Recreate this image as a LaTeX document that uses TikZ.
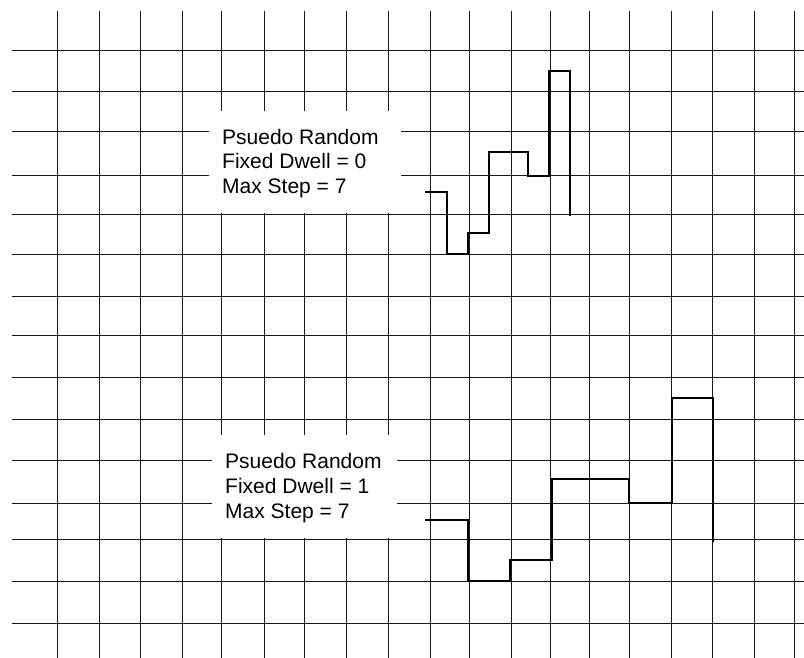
\documentclass[tikz,border=0pt]{standalone}
\usepackage{fontspec}
\setmainfont{Liberation Sans}
\tikzset{
  gridline/.style={line width=1pt, black!90},
  trace/.style={line width=2.6pt, black, line join=miter, line cap=butt},
  blank/.style={fill=white, draw=none},
  label/.style={anchor=base west, align=left, inner sep=0pt, font=\fontsize{21}{25}\selectfont}
}
\begin{document}
\begin{tikzpicture}[x=1pt,y=-1pt]
\useasboundingbox (0,0) rectangle (804,658);
% grid
\foreach \gx in {57,99,140,182,221,264,304,346,388,430,469,511,550,589,629,671,712,754,794}
  \draw[gridline] (\gx,11) -- (\gx,658);
\foreach \gy in {51,92,131.5,176,215,254,296,335,377,419,460.5,503,539,581,623}
  \draw[gridline] (12,\gy) -- (804,\gy);
% white label areas
\path[blank] (209,111) rectangle (401,213.5);
\path[blank] (212,435) rectangle (397,537.5);
% labels (anchor: baseline of last line)
\node[label] (lab1) at (222,194) {Psuedo Random\\Fixed Dwell = 0\\Max Step = 7};
\node[label] (lab2) at (225,518) {Psuedo Random\\Fixed Dwell = 1\\Max Step = 7};
% traces
\draw[trace] (425,192) -- (447,192) -- (447,254) -- (468,254) -- (468,233) -- (489,233) -- (489,152) -- (528,152) -- (528,176) -- (549,176) -- (549,71) -- (570,71) -- (570,216);
\draw[trace] (425,520) -- (468,520) -- (468,581) -- (510,581) -- (510,560) -- (552,560) -- (552,479) -- (629,479) -- (629,503) -- (672,503) -- (672,398) -- (713,398) -- (713,542);
\end{tikzpicture}
\end{document}
